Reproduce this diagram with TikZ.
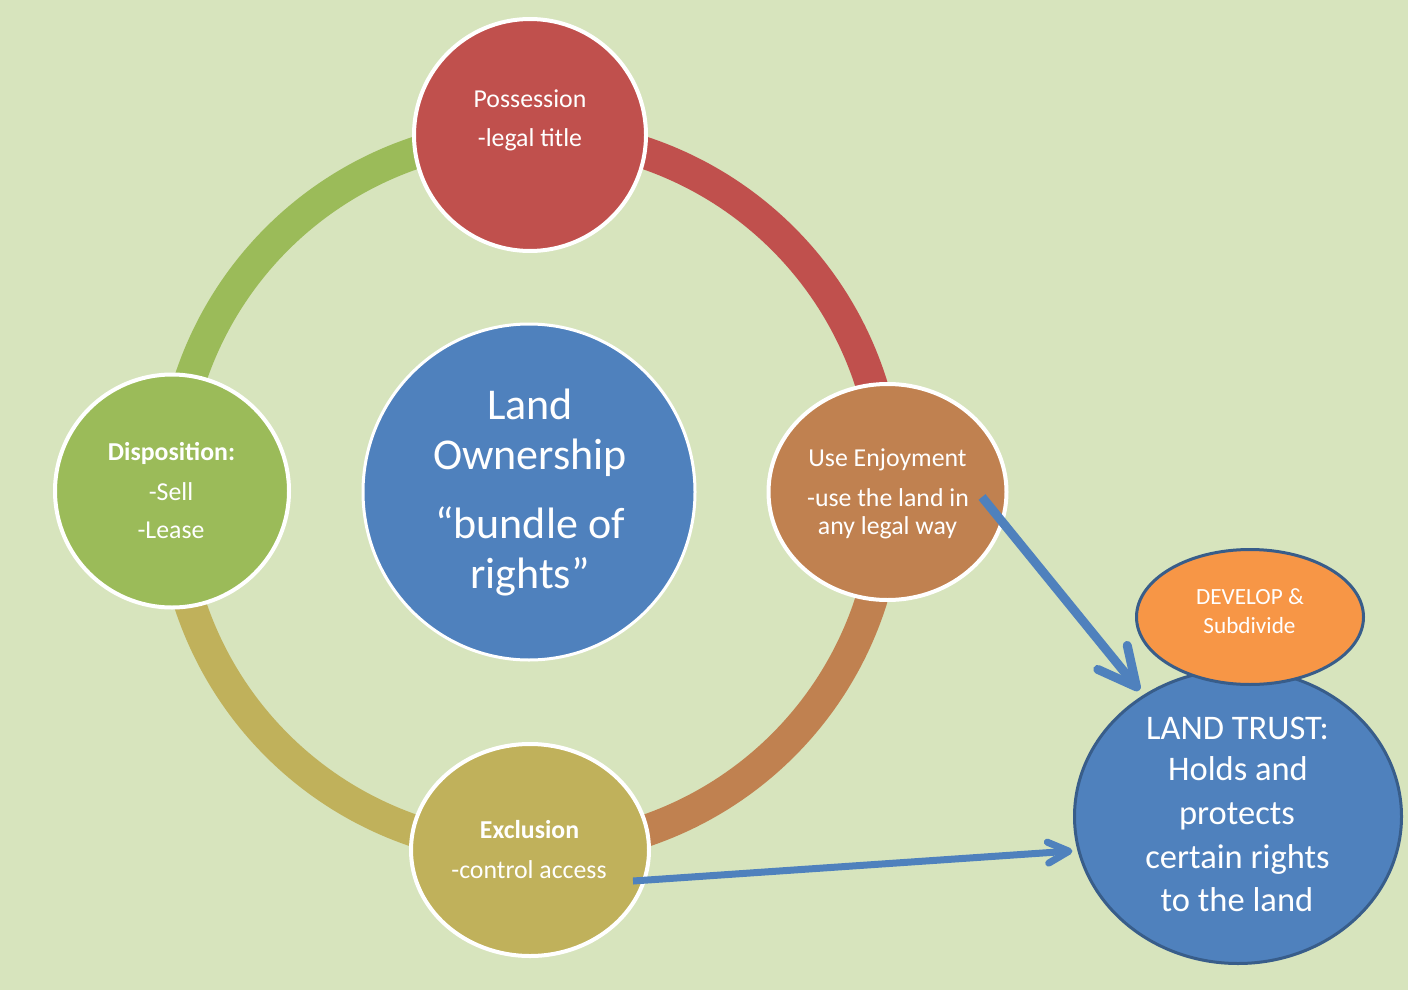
\documentclass[tikz,border=0pt]{standalone}
\usepackage{fontspec}
\setmainfont{Carlito}
\usetikzlibrary{shapes.geometric,arrows.meta}
\definecolor{bg}{HTML}{D7E4BD}
\definecolor{cred}{HTML}{C0504D}
\definecolor{cgreen}{HTML}{9BBB59}
\definecolor{cbrown}{HTML}{C08150}
\definecolor{colive}{HTML}{C0B15B}
\definecolor{cblue}{HTML}{4F81BD}
\definecolor{corange}{HTML}{F79646}
\definecolor{cborder}{HTML}{385D8A}
\begin{document}
\begin{tikzpicture}[x=0.5pt,y=-0.5pt,
  ringc/.style={ellipse, draw=white, line width=2pt, inner sep=0pt},
  bluec/.style={ellipse, draw=cborder, line width=1.5pt, inner sep=0pt},
  ringseg/.style={line width=16pt},
  sm/.style={text=white, inner sep=0pt, anchor=base, font=\fontsize{12.9}{15}\selectfont},
  smb/.style={text=white, inner sep=0pt, anchor=base, font=\fontsize{12.9}{15}\selectfont\bfseries},
  bigt/.style={text=white, inner sep=0pt, anchor=base, font=\fontsize{22}{26}\selectfont},
  trustt/.style={text=white, inner sep=0pt, anchor=base, font=\fontsize{17.25}{20}\selectfont},
  devt/.style={text=white, inner sep=0pt, anchor=base, font=\fontsize{11.6}{13}\selectfont},
  arrline/.style={draw=cblue, line cap=butt}
]
\useasboundingbox (0,0) rectangle (1408,990);
\fill[bg] (0,0) rectangle (1408,990);

% ring segments
\draw[ringseg, draw=cgreen] plot[domain=180:270, samples=60, smooth] ({530+358*cos(\x)},{492+358*sin(\x)});
\draw[ringseg, draw=cred] plot[domain=270:360, samples=60, smooth] ({530+358*cos(\x)},{492+358*sin(\x)});
\draw[ringseg, draw=cbrown] plot[domain=0:90, samples=60, smooth] ({530+358*cos(\x)},{492+358*sin(\x)});
\draw[ringseg, draw=colive] plot[domain=90:180, samples=60, smooth] ({530+358*cos(\x)},{492+358*sin(\x)});

% circles
\node[ringc, fill=cred, minimum width=116pt, minimum height=116pt] (poss) at (530,135) {};
\node[ringc, fill=cgreen, minimum width=117pt, minimum height=116.5pt] (disp) at (172,491) {};
\node[ringc, fill=cbrown, minimum width=119pt, minimum height=108pt] (use) at (887.5,492) {};
\node[ringc, fill=colive, minimum width=119pt, minimum height=106pt] (excl) at (530,850) {};
\node[ellipse, draw=white, line width=1.5pt, inner sep=0pt, fill=cblue, minimum width=166pt, minimum height=168pt] (own) at (529,492) {};

\node[bluec, fill=cblue, minimum width=163.5pt, minimum height=147pt] (trust) at (1238,816.5) {};
\node[bluec, fill=corange, minimum width=113.5pt, minimum height=67.5pt] (dev) at (1250,617) {};

% texts
\node[sm] (possA) at (530,108) {Possession};
\node[sm] (possB) at (530,147) {-legal title};

\node[smb] (dispA) at (171.5,460) {Disposition:};
\node[sm] (dispB) at (171,500.5) {-Sell};
\node[sm] (dispC) at (171,538) {-Lease};

\node[sm] (useA) at (887.5,466.5) {Use Enjoyment};
\node[sm] (useB) at (888,506) {-use the land in};
\node[sm] (useC) at (887.5,534) {any legal way};

\node[smb] (exclA) at (529.5,838.5) {Exclusion};
\node[sm] (exclB) at (529,878) {-control access};

\node[bigt] (ownA) at (530,419) {Land};
\node[bigt] (ownB) at (530,469) {Ownership};
\node[bigt] (ownC) at (530,538) {“bundle of};
\node[bigt] (ownD) at (530,588) {rights”};

\node[devt] (devA) at (1250,604) {DEVELOP \&};
\node[devt] (devB) at (1249.5,633.5) {Subdivide};

\node[trustt] (trA) at (1237.5,739) {LAND TRUST:};
\node[trustt] (trB) at (1238,780.5) {Holds and};
\node[trustt] (trC) at (1237,824) {protects};
\node[trustt] (trD) at (1237.5,868) {certain rights};
\node[trustt] (trE) at (1237,911.5) {to the land};

% arrows
\coordinate (a1s) at (982,497);
\coordinate (a2s) at (633,881);
\draw[arrline, line width=4.5pt, -{Straight Barb[length=19pt,width=19pt,round]}, shorten >=3pt] (a1s) -- (trust.128);
\draw[arrline, line width=3.5pt, -{Straight Barb[length=10.5pt,width=10.5pt,round]}, shorten >=2.5pt] (a2s) -- (trust.192);
\end{tikzpicture}
\end{document}
